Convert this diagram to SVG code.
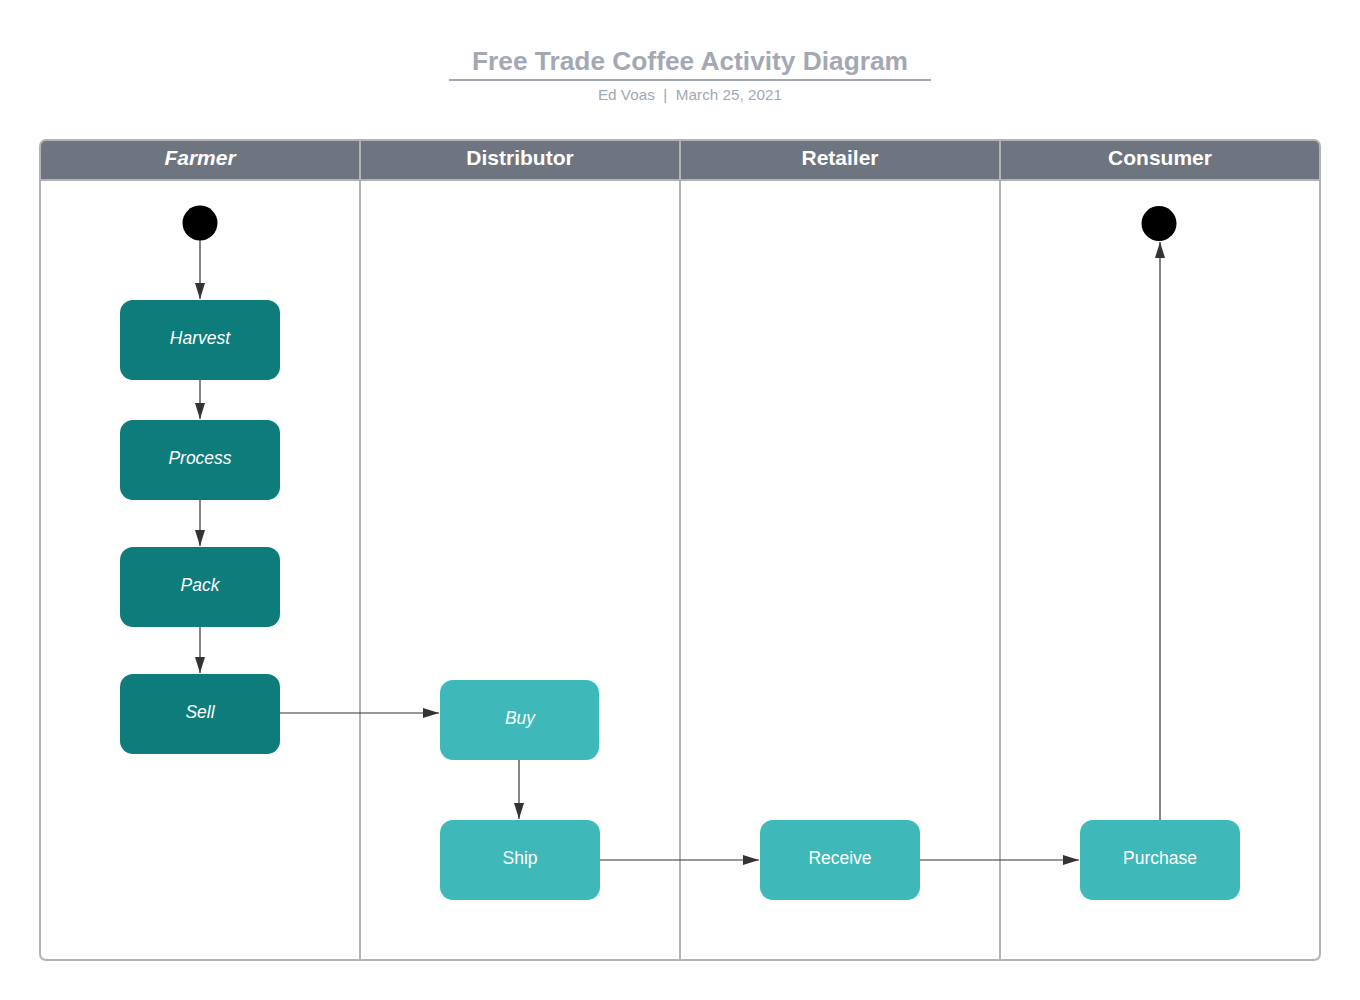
<svg xmlns="http://www.w3.org/2000/svg" width="1360" height="1000" viewBox="0 0 1360 1000">
<defs>
<style>
.title{font-family:"Liberation Sans",Arial,sans-serif;font-size:26.3px;font-weight:bold;fill:#a3a8b3;text-anchor:middle}
.sub{font-family:"Liberation Sans",Arial,sans-serif;font-size:15.3px;fill:#a3a8b3;text-anchor:middle}
.hdr{font-family:"Liberation Sans",Arial,sans-serif;font-size:21px;font-weight:bold;fill:#ffffff;text-anchor:middle}
.lbl{font-family:"Liberation Sans",Arial,sans-serif;font-size:17.5px;fill:#ffffff;text-anchor:middle}
.it{font-style:italic}
.dark{fill:#0e7c7b}
.light{fill:#3eb8b8}
.edge{stroke:#333333;stroke-width:1.2;fill:none;marker-end:url(#arr)}
.lane{stroke:#b3b3b3;stroke-width:2;fill:none}
</style>
<marker id="arr" markerWidth="17" markerHeight="11" refX="16" refY="5.5" orient="auto" markerUnits="userSpaceOnUse">
<path d="M0,0.5 L16,5.5 L0,10.5 Z" fill="#333333"/>
</marker>
</defs>
<rect width="1360" height="1000" fill="#ffffff"/>
<g id="title">
<text class="title" x="690" y="70">Free Trade Coffee Activity Diagram</text>
<line x1="449" y1="80" x2="931" y2="80" stroke="#a3a8b3" stroke-width="2"/>
<text class="sub" x="690" y="100" xml:space="preserve">Ed Voas  |  March 25, 2021</text>
</g>
<g id="pool">
<path d="M40,180 V146 Q40,140 46,140 H1314 Q1320,140 1320,146 V180 Z" fill="#6f7580"/>
<rect x="40" y="140" width="1280" height="820" rx="6" class="lane"/>
<line x1="40" y1="180" x2="1320" y2="180" class="lane"/>
<line x1="360" y1="140" x2="360" y2="960" class="lane"/>
<line x1="680" y1="140" x2="680" y2="960" class="lane"/>
<line x1="1000" y1="140" x2="1000" y2="960" class="lane"/>
<text class="hdr it" x="200" y="165">Farmer</text>
<text class="hdr" x="520" y="165">Distributor</text>
<text class="hdr" x="840" y="165">Retailer</text>
<text class="hdr" x="1160" y="165">Consumer</text>
</g>
<g id="connectors">
<line x1="200" y1="240" x2="200" y2="299" class="edge"/>
<line x1="200" y1="380" x2="200" y2="419" class="edge"/>
<line x1="200" y1="500" x2="200" y2="546" class="edge"/>
<line x1="200" y1="627" x2="200" y2="673" class="edge"/>
<line x1="280" y1="713" x2="439" y2="713" class="edge"/>
<line x1="519" y1="760" x2="519" y2="819" class="edge"/>
<line x1="600" y1="860" x2="759" y2="860" class="edge"/>
<line x1="920" y1="860" x2="1079" y2="860" class="edge"/>
<line x1="1160" y1="820" x2="1160" y2="242" class="edge"/>
</g>
<g id="start"><circle cx="200" cy="223" r="17.5" fill="#000000"/></g>
<g id="end"><circle cx="1159" cy="223.5" r="17.5" fill="#000000"/></g>
<g id="harvest"><rect x="120" y="300" width="160" height="80" rx="13" class="dark"/><text class="lbl it" x="200" y="344">Harvest</text></g>
<g id="process"><rect x="120" y="420" width="160" height="80" rx="13" class="dark"/><text class="lbl it" x="200" y="464">Process</text></g>
<g id="pack"><rect x="120" y="547" width="160" height="80" rx="13" class="dark"/><text class="lbl it" x="200" y="591">Pack</text></g>
<g id="sell"><rect x="120" y="674" width="160" height="80" rx="13" class="dark"/><text class="lbl it" x="200" y="718">Sell</text></g>
<g id="buy"><rect x="440" y="680" width="159" height="80" rx="13" class="light"/><text class="lbl it" x="520" y="724">Buy</text></g>
<g id="ship"><rect x="440" y="820" width="160" height="80" rx="13" class="light"/><text class="lbl" x="520" y="864">Ship</text></g>
<g id="receive"><rect x="760" y="820" width="160" height="80" rx="13" class="light"/><text class="lbl" x="840" y="864">Receive</text></g>
<g id="purchase"><rect x="1080" y="820" width="160" height="80" rx="13" class="light"/><text class="lbl" x="1160" y="864">Purchase</text></g>
</svg>
